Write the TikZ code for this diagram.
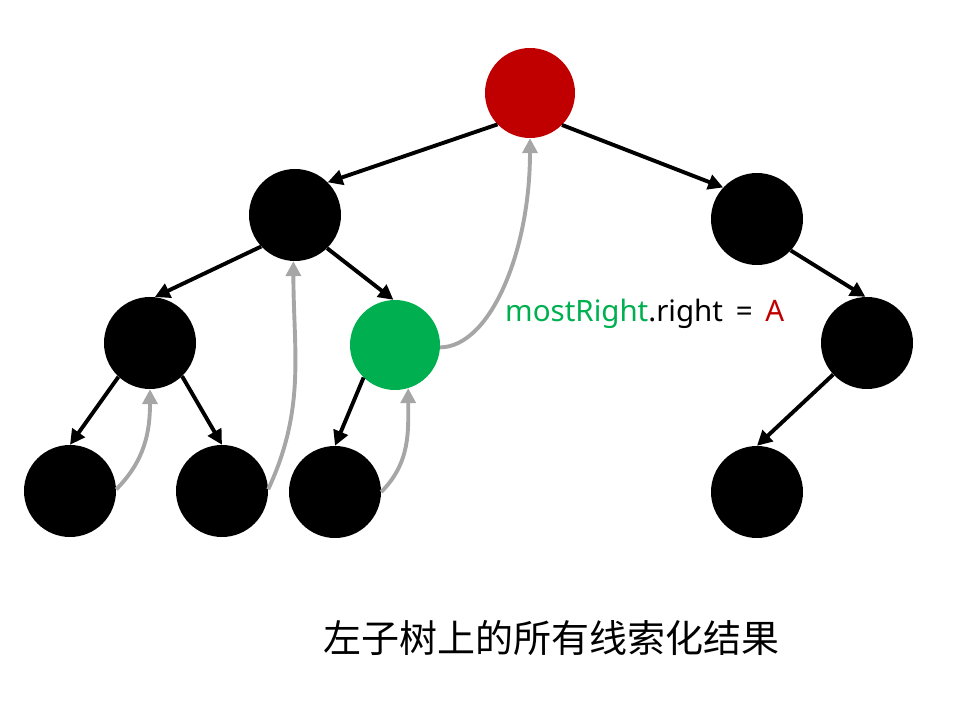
\documentclass[tikz,border=0pt]{standalone}
\usepackage{fontspec}
\setmainfont{Noto Sans}
\newfontfamily\cjk{Noto Sans CJK SC}
\usetikzlibrary{arrows.meta}
\definecolor{rootred}{HTML}{C00000}
\definecolor{mrgreen}{HTML}{00B050}
\definecolor{thrgray}{HTML}{A6A6A6}
\begin{document}
\begin{tikzpicture}[x=1pt,y=1pt,
  tnode/.style={circle,fill=black,minimum size=92pt,inner sep=0pt},
  tedge/.style={line width=3.9pt,draw=black,-{Triangle[length=15pt,width=15pt]}},
  thread/.style={line width=3.9pt,draw=thrgray,-{Triangle[length=15pt,width=15pt]}}]
\useasboundingbox (0,0) rectangle (978,702);
\node[tnode,fill=rootred,minimum size=90pt] (root) at (530,609) {};
\node[tnode] (L) at (295,487) {};
\node[tnode] (R) at (757,483) {};
\node[tnode] (LL) at (150,359) {};
\node[tnode,fill=mrgreen,minimum size=90pt] (LR) at (395,357) {};
\node[tnode] (RR) at (867,359) {};
\node[tnode] (LLL) at (70,211) {};
\node[tnode] (LLR) at (222,211) {};
\node[tnode] (LRL) at (335,210) {};
\node[tnode] (RRL) at (757,210) {};
\draw[tedge] (root.-136) -- (L.45);
\draw[tedge] (root.-45) -- (R.137);
\draw[tedge] (L.-137) -- (LL.84);
\draw[tedge] (L.-46) -- (LR.92);
\draw[tedge] (R.-43) -- (RR.92);
\draw[tedge] (RR.-137) -- (RRL.90);
\draw[tedge] (LL.-133) -- (LLL.90);
\draw[tedge] (LL.-46) -- (LLR.90);
\draw[tedge] (LR.-134) -- (LRL.90);
\draw[thread] (LLL.2) to[out=45,in=-90] (LL.-90);
\draw[thread] (LLR.2) to[out=65,in=-90] (L.-92);
\draw[thread] (LRL.0) to[out=45,in=-90] (LR.-73);
\draw[thread] (LR.-3) .. controls (490,355) and (530,450) .. (root.-90);
\node[anchor=base west,inner sep=0pt,font=\fontsize{29.5}{34}\selectfont] (lbl) at (505,380)
  {\textcolor{mrgreen}{mostRight}.right\hspace{5pt} = \hspace{5pt}\textcolor{rootred}{A}};
\node[inner sep=0pt,font=\cjk\fontsize{38}{44}\selectfont] (cap) at (551,64) {左子树上的所有线索化结果};
\end{tikzpicture}
\end{document}
